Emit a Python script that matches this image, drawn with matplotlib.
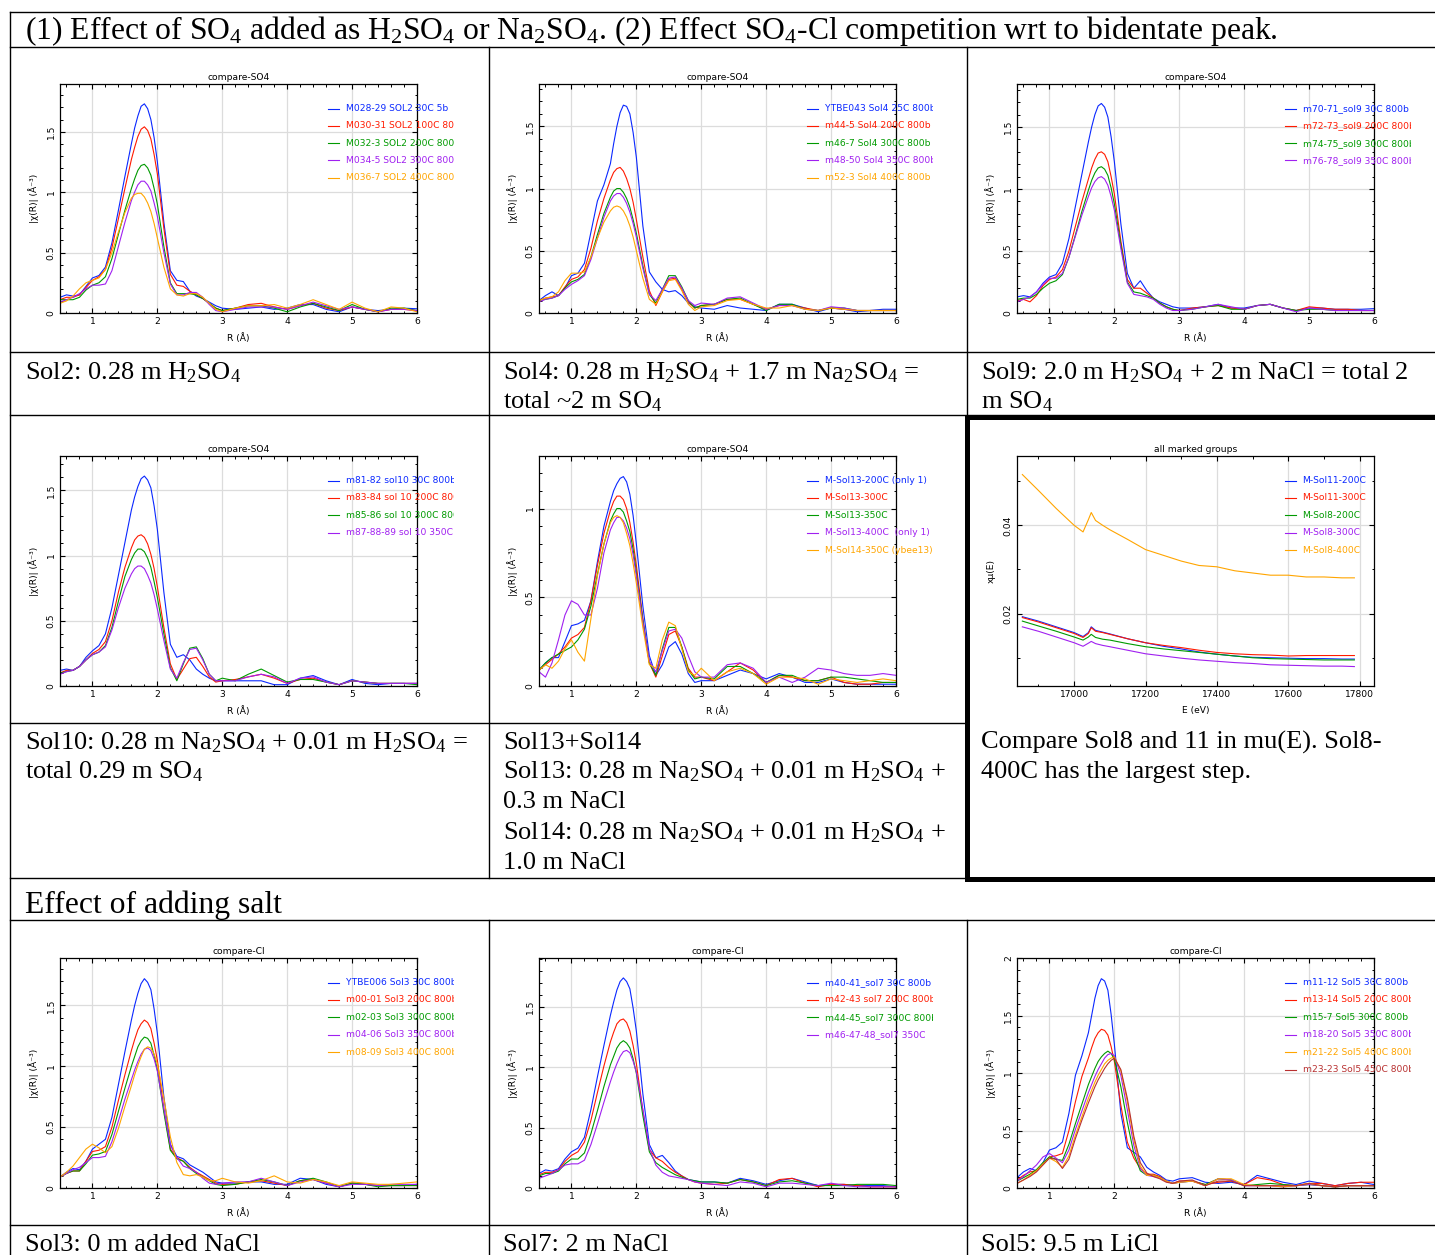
import matplotlib
matplotlib.use("Agg")
import matplotlib.pyplot as plt
from matplotlib.ticker import MultipleLocator, FuncFormatter
from matplotlib.transforms import Bbox, TransformedBbox

plt.rcParams["font.family"] = "DejaVu Sans"
plt.rcParams["mathtext.fontset"] = "custom"
plt.rcParams["mathtext.rm"] = "Liberation Serif"
plt.rcParams["mathtext.it"] = "Liberation Serif:italic"
plt.rcParams["mathtext.bf"] = "Liberation Serif:bold"

# ---- data ----
R = [0.5, 0.6, 0.7, 0.8, 0.9, 1.0, 1.1, 1.2, 1.3, 1.4, 1.5, 1.6,
     1.65, 1.7, 1.75, 1.8, 1.85, 1.9, 1.95,
     2.0, 2.1, 2.2, 2.3, 2.4, 2.5, 2.6, 2.7, 2.8, 2.9, 3.0,
     3.2, 3.4, 3.6, 3.8, 4.0, 4.2, 4.4, 4.6, 4.8, 5.0, 5.2, 5.4, 5.6, 5.8, 6.0]

COLORS = ["#0a28ff", "#ff1a00", "#009a00", "#a020f0", "#ffa500", "#b83030"]

SOL2_LABELS = ["M028-29 SOL2 30C 5b", "M030-31 SOL2 100C 800b", "M032-3 SOL2 200C 800b",
               "M034-5 SOL2 300C 800b", "M036-7 SOL2 400C 800b"]
SOL2_CURVES = [
    [0.13, 0.15, 0.14, 0.15, 0.22, 0.29, 0.31, 0.38, 0.58, 0.85, 1.13, 1.40,
     1.53, 1.63, 1.71, 1.73, 1.69, 1.60, 1.45,
     1.25, 0.75, 0.35, 0.27, 0.26, 0.18, 0.14, 0.12, 0.09, 0.06, 0.04,
     0.03, 0.04, 0.05, 0.03, 0.04, 0.07, 0.07, 0.03, 0.01, 0.05, 0.03, 0.02, 0.03, 0.04, 0.035],
    [0.11, 0.13, 0.13, 0.15, 0.21, 0.27, 0.30, 0.36, 0.54, 0.78, 1.03, 1.27,
     1.37, 1.46, 1.52, 1.54, 1.51, 1.44, 1.31,
     1.15, 0.70, 0.32, 0.23, 0.22, 0.18, 0.15, 0.12, 0.08, 0.04, 0.02,
     0.04, 0.07, 0.08, 0.05, 0.03, 0.06, 0.08, 0.04, 0.02, 0.05, 0.03, 0.01, 0.03, 0.03, 0.02],
    [0.11, 0.11, 0.11, 0.13, 0.19, 0.23, 0.25, 0.30, 0.45, 0.65, 0.85, 1.03,
     1.11, 1.18, 1.22, 1.23, 1.20, 1.14, 1.03,
     0.90, 0.55, 0.25, 0.16, 0.16, 0.16, 0.15, 0.12, 0.08, 0.04, 0.02,
     0.04, 0.06, 0.06, 0.04, 0.01, 0.05, 0.08, 0.05, 0.02, 0.07, 0.03, 0.01, 0.04, 0.04, 0.02],
    [0.09, 0.11, 0.13, 0.16, 0.20, 0.23, 0.23, 0.24, 0.35, 0.55, 0.75, 0.93,
     1.00, 1.06, 1.09, 1.09, 1.06, 1.01, 0.91,
     0.80, 0.50, 0.24, 0.15, 0.15, 0.17, 0.17, 0.13, 0.07, 0.02, 0.01,
     0.03, 0.05, 0.05, 0.05, 0.03, 0.06, 0.09, 0.06, 0.03, 0.05, 0.03, 0.01, 0.03, 0.03, 0.02],
    [0.08, 0.10, 0.14, 0.20, 0.25, 0.27, 0.29, 0.36, 0.50, 0.67, 0.83, 0.95,
     0.98, 0.99, 0.99, 0.96, 0.91, 0.84, 0.74,
     0.62, 0.38, 0.20, 0.15, 0.14, 0.16, 0.16, 0.13, 0.08, 0.03, 0.01,
     0.04, 0.06, 0.06, 0.07, 0.04, 0.07, 0.11, 0.07, 0.03, 0.09, 0.04, 0.01, 0.05, 0.04, 0.01],
]

SOL4_LABELS = ["YTBE043 Sol4 25C 800b", "m44-5 Sol4 200C 800b", "m46-7 Sol4 300C 800b",
               "m48-50 Sol4 350C 800b", "m52-3 Sol4 400C 800b"]
SOL4_CURVES = [
    [0.10, 0.14, 0.17, 0.14, 0.20, 0.30, 0.32, 0.40, 0.65, 0.90, 1.03, 1.20,
     1.36, 1.50, 1.61, 1.67, 1.66, 1.60, 1.45,
     1.25, 0.70, 0.33, 0.25, 0.19, 0.17, 0.18, 0.14, 0.08, 0.05, 0.04,
     0.03, 0.06, 0.04, 0.03, 0.02, 0.07, 0.07, 0.04, 0.01, 0.04, 0.03, 0.01, 0.02, 0.03, 0.03],
    [0.10, 0.12, 0.13, 0.14, 0.21, 0.27, 0.29, 0.35, 0.52, 0.74, 0.92, 1.07,
     1.13, 1.16, 1.17, 1.14, 1.08, 1.00, 0.89,
     0.75, 0.45, 0.18, 0.06, 0.17, 0.27, 0.28, 0.19, 0.09, 0.04, 0.06,
     0.07, 0.11, 0.11, 0.07, 0.03, 0.06, 0.06, 0.04, 0.02, 0.04, 0.03, 0.02, 0.02, 0.02, 0.02],
    [0.10, 0.11, 0.12, 0.14, 0.20, 0.25, 0.27, 0.31, 0.45, 0.63, 0.80, 0.93,
     0.98, 1.00, 1.00, 0.97, 0.92, 0.85, 0.75,
     0.64, 0.38, 0.15, 0.08, 0.19, 0.30, 0.30, 0.21, 0.10, 0.04, 0.06,
     0.07, 0.11, 0.12, 0.07, 0.02, 0.07, 0.07, 0.03, 0.02, 0.04, 0.04, 0.02, 0.02, 0.02, 0.02],
    [0.09, 0.11, 0.12, 0.14, 0.19, 0.23, 0.26, 0.30, 0.43, 0.60, 0.77, 0.90,
     0.94, 0.96, 0.96, 0.93, 0.88, 0.81, 0.72,
     0.61, 0.36, 0.15, 0.10, 0.19, 0.28, 0.29, 0.20, 0.10, 0.06, 0.08,
     0.07, 0.12, 0.13, 0.08, 0.03, 0.06, 0.06, 0.03, 0.02, 0.05, 0.04, 0.02, 0.02, 0.02, 0.02],
    [0.10, 0.12, 0.13, 0.17, 0.26, 0.32, 0.32, 0.33, 0.45, 0.60, 0.73, 0.82,
     0.85, 0.86, 0.85, 0.82, 0.77, 0.70, 0.61,
     0.50, 0.28, 0.11, 0.07, 0.17, 0.26, 0.27, 0.18, 0.07, 0.02, 0.05,
     0.06, 0.10, 0.11, 0.07, 0.04, 0.04, 0.06, 0.03, 0.02, 0.04, 0.03, 0.02, 0.02, 0.02, 0.02],
]

SOL9_LABELS = ["m70-71_sol9 30C 800b", "m72-73_sol9 200C 800b", "m74-75_sol9 300C 800b",
               "m76-78_sol9 350C 800b"]
SOL9_CURVES = [
    [0.13, 0.14, 0.13, 0.17, 0.24, 0.29, 0.31, 0.40, 0.60, 0.86, 1.12, 1.38,
     1.50, 1.60, 1.67, 1.69, 1.66, 1.58, 1.42,
     1.22, 0.72, 0.32, 0.20, 0.26, 0.18, 0.12, 0.09, 0.07, 0.05, 0.04,
     0.04, 0.05, 0.07, 0.04, 0.04, 0.06, 0.07, 0.04, 0.02, 0.04, 0.04, 0.03, 0.03, 0.03, 0.035],
    [0.10, 0.11, 0.09, 0.14, 0.22, 0.27, 0.29, 0.35, 0.50, 0.70, 0.90, 1.08,
     1.17, 1.24, 1.29, 1.30, 1.28, 1.22, 1.10,
     0.96, 0.58, 0.27, 0.20, 0.20, 0.16, 0.12, 0.08, 0.05, 0.03, 0.02,
     0.04, 0.05, 0.06, 0.04, 0.03, 0.06, 0.07, 0.04, 0.02, 0.05, 0.04, 0.03, 0.03, 0.02, 0.02],
    [0.11, 0.12, 0.12, 0.15, 0.20, 0.24, 0.26, 0.31, 0.45, 0.63, 0.82, 0.99,
     1.07, 1.13, 1.17, 1.18, 1.16, 1.11, 1.01,
     0.88, 0.55, 0.25, 0.17, 0.16, 0.14, 0.12, 0.08, 0.05, 0.03, 0.02,
     0.03, 0.05, 0.06, 0.03, 0.03, 0.06, 0.07, 0.04, 0.02, 0.03, 0.03, 0.02, 0.02, 0.02, 0.02],
    [0.09, 0.11, 0.13, 0.17, 0.23, 0.28, 0.28, 0.32, 0.45, 0.62, 0.79, 0.94,
     1.01, 1.06, 1.09, 1.10, 1.08, 1.03, 0.94,
     0.83, 0.52, 0.24, 0.15, 0.14, 0.13, 0.11, 0.07, 0.04, 0.02, 0.02,
     0.03, 0.05, 0.07, 0.05, 0.03, 0.06, 0.07, 0.04, 0.01, 0.04, 0.03, 0.02, 0.02, 0.02, 0.02],
]

SOL10_LABELS = ["m81-82 sol10 30C 800b", "m83-84 sol 10 200C 800b", "m85-86 sol 10 300C 800b",
                "m87-88-89 sol 10 350C 800b"]
SOL10_CURVES = [
    [0.12, 0.13, 0.12, 0.15, 0.22, 0.27, 0.31, 0.40, 0.60, 0.85, 1.10, 1.35,
     1.45, 1.53, 1.59, 1.61, 1.58, 1.52, 1.38,
     1.20, 0.72, 0.32, 0.22, 0.24, 0.20, 0.13, 0.09, 0.06, 0.04, 0.04,
     0.04, 0.04, 0.04, 0.01, 0.01, 0.06, 0.08, 0.04, 0.01, 0.05, 0.02, 0.01, 0.02, 0.02, 0.02],
    [0.10, 0.12, 0.12, 0.15, 0.20, 0.25, 0.28, 0.34, 0.50, 0.72, 0.91, 1.06,
     1.12, 1.15, 1.16, 1.14, 1.09, 1.01, 0.90,
     0.76, 0.45, 0.17, 0.05, 0.13, 0.21, 0.22, 0.15, 0.07, 0.03, 0.04,
     0.05, 0.07, 0.09, 0.06, 0.02, 0.05, 0.06, 0.03, 0.01, 0.04, 0.03, 0.02, 0.02, 0.02, 0.02],
    [0.10, 0.11, 0.12, 0.15, 0.20, 0.24, 0.26, 0.31, 0.45, 0.65, 0.84, 0.97,
     1.02, 1.05, 1.05, 1.03, 0.98, 0.91, 0.80,
     0.68, 0.40, 0.14, 0.04, 0.17, 0.29, 0.30, 0.21, 0.09, 0.04, 0.06,
     0.04, 0.09, 0.13, 0.08, 0.03, 0.05, 0.05, 0.03, 0.01, 0.04, 0.03, 0.02, 0.02, 0.02, 0.01],
    [0.09, 0.11, 0.12, 0.15, 0.20, 0.24, 0.26, 0.30, 0.43, 0.60, 0.75, 0.86,
     0.90, 0.92, 0.92, 0.90, 0.85, 0.79, 0.70,
     0.59, 0.35, 0.13, 0.06, 0.18, 0.28, 0.29, 0.20, 0.09, 0.04, 0.04,
     0.04, 0.07, 0.09, 0.07, 0.02, 0.06, 0.07, 0.03, 0.01, 0.04, 0.03, 0.02, 0.02, 0.02, 0.02],
]

SOL13_LABELS = ["M-Sol13-200C (only 1)", "M-Sol13-300C", "M-Sol13-350C",
                "M-Sol13-400C  (only 1)", "M-Sol14-350C (ybee13)"]
SOL13_CURVES = [
    [0.09, 0.13, 0.16, 0.16, 0.25, 0.34, 0.35, 0.37, 0.48, 0.70, 0.90, 1.04,
     1.10, 1.14, 1.17, 1.18, 1.15, 1.08, 0.96,
     0.80, 0.45, 0.17, 0.06, 0.12, 0.22, 0.25, 0.18, 0.07, 0.02, 0.03,
     0.03, 0.06, 0.09, 0.07, 0.04, 0.07, 0.05, 0.02, 0.02, 0.04, 0.02, 0.01, 0.01, 0.01, 0.01],
    [0.09, 0.12, 0.15, 0.18, 0.22, 0.27, 0.29, 0.33, 0.48, 0.68, 0.86, 0.99,
     1.04, 1.07, 1.07, 1.05, 1.00, 0.92, 0.81,
     0.68, 0.38, 0.13, 0.05, 0.17, 0.29, 0.31, 0.22, 0.10, 0.05, 0.05,
     0.03, 0.08, 0.13, 0.09, 0.02, 0.06, 0.05, 0.03, 0.03, 0.05, 0.02, 0.01, 0.01, 0.02, 0.02],
    [0.09, 0.13, 0.16, 0.18, 0.20, 0.22, 0.26, 0.32, 0.45, 0.63, 0.80, 0.93,
     0.97, 1.00, 1.00, 0.98, 0.93, 0.87, 0.77,
     0.64, 0.37, 0.13, 0.06, 0.21, 0.33, 0.33, 0.22, 0.09, 0.04, 0.05,
     0.04, 0.11, 0.11, 0.07, 0.02, 0.06, 0.06, 0.03, 0.03, 0.05, 0.05, 0.04, 0.03, 0.02, 0.02],
    [0.08, 0.05, 0.13, 0.26, 0.40, 0.48, 0.46, 0.40, 0.40, 0.55, 0.75, 0.88,
     0.92, 0.95, 0.95, 0.93, 0.89, 0.83, 0.74,
     0.62, 0.36, 0.14, 0.08, 0.20, 0.31, 0.32, 0.27, 0.17, 0.08, 0.05,
     0.05, 0.12, 0.13, 0.10, 0.02, 0.05, 0.02, 0.05, 0.10, 0.09, 0.07, 0.06, 0.06, 0.07, 0.06],
    [0.09, 0.12, 0.10, 0.14, 0.21, 0.26, 0.19, 0.14, 0.38, 0.62, 0.80, 0.92,
     0.95, 0.96, 0.95, 0.92, 0.86, 0.79, 0.69,
     0.58, 0.33, 0.12, 0.10, 0.26, 0.36, 0.34, 0.21, 0.08, 0.06, 0.10,
     0.03, 0.08, 0.10, 0.07, 0.01, 0.05, 0.05, 0.04, 0.01, 0.04, 0.03, 0.02, 0.03, 0.04, 0.03],
]

E_EV = [16855, 16900, 16950, 17000, 17025, 17040, 17048, 17060, 17080, 17100, 17150, 17200,
        17250, 17300, 17350, 17400, 17450, 17500, 17550, 17600, 17650, 17700, 17750, 17785]
MU_LABELS = ["M-Sol11-200C", "M-Sol11-300C", "M-Sol8-200C", "M-Sol8-300C", "M-Sol8-400C"]
MU_CURVES = [
    [0.0193, 0.0183, 0.0170, 0.0157, 0.0148, 0.0157, 0.0170, 0.0162, 0.0158, 0.0154, 0.0143, 0.0134,
     0.0126, 0.0120, 0.0113, 0.0108, 0.0104, 0.0101, 0.0100, 0.0099, 0.0098, 0.0098, 0.0097, 0.0097],
    [0.0191, 0.0181, 0.0168, 0.0155, 0.0146, 0.0155, 0.0168, 0.0160, 0.0157, 0.0153, 0.0143, 0.0134,
     0.0128, 0.0123, 0.0117, 0.0112, 0.0109, 0.0107, 0.0106, 0.0104, 0.0105, 0.0105, 0.0105, 0.0105],
    [0.0183, 0.0172, 0.0160, 0.0147, 0.0140, 0.0147, 0.0153, 0.0146, 0.0142, 0.0140, 0.0132, 0.0125,
     0.0120, 0.0116, 0.0112, 0.0108, 0.0104, 0.0100, 0.0098, 0.0097, 0.0096, 0.0095, 0.0095, 0.0095],
    [0.0170, 0.0160, 0.0147, 0.0134, 0.0126, 0.0133, 0.0137, 0.0132, 0.0128, 0.0125, 0.0117, 0.0109,
     0.0104, 0.0099, 0.0095, 0.0092, 0.0089, 0.0087, 0.0084, 0.0083, 0.0082, 0.0081, 0.0081, 0.0080],
    [0.0515, 0.0479, 0.0438, 0.0400, 0.0385, 0.0413, 0.0429, 0.0411, 0.0400, 0.0390, 0.0368, 0.0345,
     0.0332, 0.0319, 0.0309, 0.0306, 0.0297, 0.0292, 0.0287, 0.0287, 0.0283, 0.0283, 0.0281, 0.0281],
]

SOL3_LABELS = ["YTBE006 Sol3 30C 800b", "m00-01 Sol3 200C 800b", "m02-03 Sol3 300C 800b",
               "m04-06 Sol3 350C 800b", "m08-09 Sol3 400C 800b"]
SOL3_CURVES = [
    [0.09, 0.13, 0.16, 0.15, 0.22, 0.32, 0.36, 0.40, 0.58, 0.85, 1.12, 1.38,
     1.50, 1.60, 1.68, 1.72, 1.69, 1.63, 1.47,
     1.27, 0.75, 0.36, 0.26, 0.24, 0.19, 0.16, 0.13, 0.09, 0.05, 0.04,
     0.04, 0.05, 0.05, 0.03, 0.03, 0.08, 0.07, 0.03, 0.01, 0.04, 0.03, 0.02, 0.02, 0.02, 0.03],
    [0.09, 0.12, 0.14, 0.14, 0.22, 0.30, 0.31, 0.34, 0.50, 0.72, 0.93, 1.13,
     1.22, 1.30, 1.35, 1.38, 1.36, 1.31, 1.19,
     1.05, 0.65, 0.32, 0.25, 0.22, 0.17, 0.13, 0.10, 0.07, 0.04, 0.03,
     0.03, 0.05, 0.06, 0.04, 0.02, 0.06, 0.07, 0.04, 0.01, 0.04, 0.03, 0.02, 0.02, 0.02, 0.02],
    [0.09, 0.12, 0.14, 0.14, 0.20, 0.27, 0.28, 0.30, 0.44, 0.63, 0.82, 1.00,
     1.08, 1.16, 1.21, 1.24, 1.23, 1.19, 1.09,
     0.97, 0.62, 0.31, 0.24, 0.22, 0.16, 0.12, 0.09, 0.06, 0.03, 0.02,
     0.03, 0.05, 0.07, 0.05, 0.02, 0.06, 0.08, 0.05, 0.01, 0.04, 0.03, 0.01, 0.02, 0.02, 0.02],
    [0.09, 0.12, 0.15, 0.17, 0.21, 0.25, 0.25, 0.26, 0.38, 0.55, 0.73, 0.89,
     0.97, 1.04, 1.10, 1.14, 1.15, 1.13, 1.06,
     0.96, 0.65, 0.35, 0.25, 0.18, 0.16, 0.13, 0.08, 0.04, 0.03, 0.04,
     0.05, 0.05, 0.08, 0.05, 0.02, 0.05, 0.07, 0.04, 0.01, 0.03, 0.03, 0.02, 0.03, 0.03, 0.03],
    [0.09, 0.13, 0.18, 0.25, 0.32, 0.36, 0.33, 0.29, 0.34, 0.49, 0.67, 0.84,
     0.93, 1.01, 1.08, 1.14, 1.16, 1.15, 1.10,
     1.02, 0.74, 0.42, 0.21, 0.11, 0.10, 0.11, 0.09, 0.06, 0.06, 0.08,
     0.05, 0.04, 0.06, 0.10, 0.05, 0.04, 0.07, 0.05, 0.02, 0.05, 0.04, 0.03, 0.03, 0.04, 0.05],
]

SOL7_LABELS = ["m40-41_sol7 30C 800b", "m42-43 sol7 200C 800b", "m44-45_sol7 300C 800b",
               "m46-47-48_sol7 350C"]
SOL7_CURVES = [
    [0.12, 0.15, 0.14, 0.16, 0.24, 0.30, 0.33, 0.42, 0.65, 0.92, 1.18, 1.43,
     1.54, 1.64, 1.71, 1.74, 1.71, 1.65, 1.49,
     1.30, 0.78, 0.36, 0.25, 0.27, 0.21, 0.14, 0.10, 0.07, 0.06, 0.05,
     0.05, 0.04, 0.08, 0.06, 0.03, 0.06, 0.08, 0.05, 0.02, 0.03, 0.03, 0.02, 0.02, 0.02, 0.01],
    [0.11, 0.13, 0.13, 0.15, 0.22, 0.27, 0.30, 0.38, 0.56, 0.79, 1.01, 1.21,
     1.29, 1.36, 1.39, 1.40, 1.37, 1.30, 1.18,
     1.03, 0.64, 0.32, 0.25, 0.22, 0.17, 0.13, 0.10, 0.07, 0.05, 0.04,
     0.03, 0.04, 0.07, 0.05, 0.02, 0.07, 0.08, 0.04, 0.01, 0.03, 0.03, 0.02, 0.01, 0.01, 0.01],
    [0.10, 0.12, 0.12, 0.14, 0.20, 0.24, 0.24, 0.29, 0.45, 0.64, 0.84, 1.02,
     1.09, 1.16, 1.20, 1.22, 1.20, 1.16, 1.07,
     0.95, 0.60, 0.30, 0.21, 0.17, 0.14, 0.11, 0.09, 0.07, 0.06, 0.05,
     0.05, 0.04, 0.07, 0.05, 0.02, 0.05, 0.06, 0.04, 0.02, 0.02, 0.02, 0.03, 0.03, 0.03, 0.02],
    [0.08, 0.10, 0.12, 0.15, 0.19, 0.20, 0.20, 0.23, 0.36, 0.53, 0.71, 0.88,
     0.96, 1.03, 1.09, 1.13, 1.14, 1.12, 1.05,
     0.96, 0.65, 0.33, 0.19, 0.13, 0.10, 0.09, 0.08, 0.07, 0.05, 0.04,
     0.03, 0.02, 0.05, 0.04, 0.01, 0.04, 0.04, 0.03, 0.02, 0.04, 0.02, 0.01, 0.01, 0.01, 0.01],
]

SOL5_LABELS = ["m11-12 Sol5 30C 800b", "m13-14 Sol5 200C 800b", "m15-7 Sol5 300C 800b",
               "m18-20 Sol5 350C 800b", "m21-22 Sol5 400C 800b", "m23-23 Sol5 450C 800b"]
SOL5_CURVES = [
    [0.09, 0.14, 0.17, 0.15, 0.22, 0.33, 0.35, 0.40, 0.65, 0.98, 1.15, 1.35,
     1.50, 1.65, 1.76, 1.82, 1.80, 1.72, 1.51,
     1.25, 0.65, 0.35, 0.31, 0.27, 0.18, 0.14, 0.11, 0.07, 0.06, 0.08,
     0.09, 0.05, 0.04, 0.05, 0.03, 0.11, 0.08, 0.05, 0.03, 0.06, 0.04, 0.02, 0.04, 0.05, 0.03],
    [0.07, 0.11, 0.14, 0.15, 0.21, 0.27, 0.28, 0.30, 0.50, 0.75, 0.97, 1.13,
     1.22, 1.30, 1.35, 1.38, 1.37, 1.33, 1.23,
     1.10, 0.72, 0.40, 0.26, 0.17, 0.12, 0.12, 0.10, 0.06, 0.04, 0.06,
     0.06, 0.03, 0.05, 0.06, 0.03, 0.09, 0.07, 0.03, 0.02, 0.04, 0.04, 0.02, 0.04, 0.05, 0.05],
    [0.06, 0.09, 0.12, 0.16, 0.22, 0.27, 0.25, 0.24, 0.38, 0.56, 0.73, 0.90,
     0.97, 1.04, 1.10, 1.14, 1.17, 1.19, 1.17,
     1.12, 0.88, 0.57, 0.30, 0.15, 0.11, 0.11, 0.09, 0.06, 0.04, 0.05,
     0.06, 0.03, 0.08, 0.07, 0.02, 0.03, 0.04, 0.03, 0.02, 0.03, 0.02, 0.01, 0.02, 0.02, 0.02],
    [0.06, 0.10, 0.15, 0.20, 0.27, 0.30, 0.26, 0.22, 0.33, 0.51, 0.67, 0.83,
     0.90, 0.97, 1.03, 1.08, 1.13, 1.16, 1.17,
     1.15, 0.98, 0.68, 0.37, 0.17, 0.11, 0.10, 0.09, 0.06, 0.04, 0.05,
     0.06, 0.02, 0.08, 0.07, 0.02, 0.02, 0.02, 0.01, 0.02, 0.03, 0.02, 0.01, 0.02, 0.02, 0.02],
    [0.04, 0.07, 0.11, 0.15, 0.21, 0.26, 0.23, 0.18, 0.28, 0.46, 0.62, 0.78,
     0.85, 0.92, 0.98, 1.03, 1.08, 1.11, 1.13,
     1.14, 1.02, 0.75, 0.42, 0.19, 0.11, 0.11, 0.09, 0.06, 0.04, 0.05,
     0.06, 0.02, 0.08, 0.08, 0.03, 0.02, 0.02, 0.01, 0.02, 0.04, 0.02, 0.01, 0.02, 0.02, 0.02],
    [0.04, 0.07, 0.10, 0.14, 0.20, 0.26, 0.25, 0.17, 0.25, 0.43, 0.59, 0.74,
     0.81, 0.88, 0.94, 0.99, 1.04, 1.08, 1.11,
     1.13, 1.03, 0.78, 0.45, 0.22, 0.13, 0.10, 0.08, 0.05, 0.04, 0.06,
     0.07, 0.02, 0.06, 0.06, 0.02, 0.02, 0.02, 0.02, 0.02, 0.04, 0.02, 0.01, 0.02, 0.02, 0.02],
]

W, H = 1435, 1255
SERIF = "Liberation Serif"
HEAD_SIZE = 22.8
CAP_SIZE = 19
PLOT_FS = 6.6


def px_axes(fig, left, top, right, bottom):
    return fig.add_axes([left / W, 1 - bottom / H, (right - left) / W, (bottom - top) / H])


def draw_panel(ax, xs, curves, labels, title, xlim, ylim, xmaj, xmin, ymaj, ymin, xlabel, ylabel):
    for curve, color in zip(curves, COLORS):
        ax.plot(xs, curve, color=color, lw=0.8)
    ax.set_xlim(*xlim)
    ax.set_ylim(*ylim)
    ax.xaxis.set_major_locator(MultipleLocator(xmaj))
    ax.xaxis.set_minor_locator(MultipleLocator(xmin))
    ax.yaxis.set_major_locator(MultipleLocator(ymaj))
    ax.yaxis.set_minor_locator(MultipleLocator(ymin))
    ax.yaxis.set_major_formatter(FuncFormatter(lambda v, p: f"{v:g}"))
    ax.grid(True, which="major", color="#dcdcdc", lw=0.9)
    ax.set_axisbelow(True)
    ax.tick_params(which="both", direction="in", top=True, right=True, labelsize=PLOT_FS, pad=3)
    ax.tick_params(which="major", length=3.5, width=0.8)
    ax.tick_params(which="minor", length=1.8, width=0.7)
    for lab in ax.get_yticklabels():
        lab.set_rotation(90)
        lab.set_va("center")
    for s in ax.spines.values():
        s.set_linewidth(0.9)
    ax.set_title(title, fontsize=PLOT_FS, pad=3)
    ax.set_xlabel(xlabel, fontsize=PLOT_FS, labelpad=5)
    ax.set_ylabel(ylabel, fontsize=PLOT_FS, labelpad=6)
    clip = TransformedBbox(Bbox([[0.5, 0.0], [1.103, 1.0]]), ax.transAxes)
    for i, (lab, color) in enumerate(zip(labels, COLORS)):
        y = 0.893 - i * 0.0756
        ax.plot([0.751, 0.781], [y, y], color=color, lw=0.8, transform=ax.transAxes, clip_on=False)
        t = ax.text(0.800, y, lab, color=color, fontsize=PLOT_FS, va="center", ha="left",
                    transform=ax.transAxes)
        t.set_clip_box(clip)
        t.set_clip_on(True)


fig = plt.figure(figsize=(W / 100, H / 100), dpi=100)
bg = fig.add_axes([0, 0, 1, 1])
bg.set_xlim(0, W)
bg.set_ylim(H, 0)
bg.axis("off")

# table rules
LW = 1.0
for y in (12, 47, 352, 415, 878, 920, 1225):
    bg.plot([10, W], [y, y], color="black", lw=LW)
bg.plot([10, 967], [723, 723], color="black", lw=LW)
bg.plot([10, 10], [12, H], color="black", lw=LW)
for x in (489, 967):
    bg.plot([x, x], [47, 878], color="black", lw=LW)
    bg.plot([x, x], [920, H], color="black", lw=LW)
# thick frame around the mu(E) cell
bg.plot([W + 5, 967, 967, W + 5], [417, 417, 879, 879], color="black", lw=3.6,
        solid_joinstyle="miter")

hkw = dict(fontfamily=SERIF, fontsize=HEAD_SIZE, va="baseline", ha="left")
ckw = dict(fontfamily=SERIF, fontsize=CAP_SIZE, va="baseline", ha="left")
bg.text(25, 39, "(1) Effect of SO$_4$ added as H$_2$SO$_4$ or Na$_2$SO$_4$. (2) Effect "
        "SO$_4$-Cl competition wrt to bidentate peak.", **hkw)
bg.text(25, 379, "Sol2: 0.28 m H$_2$SO$_4$", **ckw)
bg.text(503, 379, "Sol4: 0.28 m H$_2$SO$_4$ + 1.7 m Na$_2$SO$_4$ =", **ckw)
bg.text(503, 408, "total ~2 m SO$_4$", **ckw)
bg.text(981, 379, "Sol9: 2.0 m H$_2$SO$_4$ + 2 m NaCl = total 2", **ckw)
bg.text(981, 408, "m SO$_4$", **ckw)
bg.text(25, 749, "Sol10: 0.28 m Na$_2$SO$_4$ + 0.01 m H$_2$SO$_4$ =", **ckw)
bg.text(25, 778, "total 0.29 m SO$_4$", **ckw)
bg.text(503, 749, "Sol13+Sol14", **ckw)
bg.text(503, 778, "Sol13: 0.28 m Na$_2$SO$_4$ + 0.01 m H$_2$SO$_4$ +", **ckw)
bg.text(503, 808, "0.3 m NaCl", **ckw)
bg.text(503, 839, "Sol14: 0.28 m Na$_2$SO$_4$ + 0.01 m H$_2$SO$_4$ +", **ckw)
bg.text(503, 869, "1.0 m NaCl", **ckw)
bg.text(981, 749, "Compare Sol8 and 11 in mu(E). Sol8-", **ckw)
bg.text(981, 778, "400C has the largest step.", **ckw)
bg.text(25, 913, "Effect of adding salt", **hkw)
bg.text(25, 1251, "Sol3: 0 m added NaCl", **ckw)
bg.text(503, 1251, "Sol7: 2 m NaCl", **ckw)
bg.text(981, 1251, "Sol5: 9.5 m LiCl", **ckw)

COL_L = [60, 539, 1017]
YCHI = "|χ(R)| (Å⁻³)"
XR = "R (Å)"

panels = [
    (COL_L[0], 84, 313, SOL2_CURVES, SOL2_LABELS, "compare-SO4", (0, 1.894)),
    (COL_L[1], 84, 313, SOL4_CURVES, SOL4_LABELS, "compare-SO4", (0, 1.84)),
    (COL_L[2], 84, 313, SOL9_CURVES, SOL9_LABELS, "compare-SO4", (0, 1.847)),
    (COL_L[0], 456, 686, SOL10_CURVES, SOL10_LABELS, "compare-SO4", (0, 1.764)),
    (COL_L[1], 456, 686, SOL13_CURVES, SOL13_LABELS, "compare-SO4", (0, 1.296)),
    (COL_L[0], 958, 1188, SOL3_CURVES, SOL3_LABELS, "compare-Cl", (0, 1.89)),
    (COL_L[1], 958, 1188, SOL7_CURVES, SOL7_LABELS, "compare-Cl", (0, 1.905)),
    (COL_L[2], 958, 1188, SOL5_CURVES, SOL5_LABELS, "compare-Cl", (0, 2.0)),
]
for left, top, bottom, curves, labels, title, ylim in panels:
    ax = px_axes(fig, left, top, left + 357, bottom)
    draw_panel(ax, R, curves, labels, title, (0.5, 6.0), ylim, 1, 0.2, 0.5, 0.1, XR, YCHI)

ax = px_axes(fig, COL_L[2], 456, COL_L[2] + 357, 686)
draw_panel(ax, E_EV, MU_CURVES, MU_LABELS, "all marked groups", (16840, 17840), (0.0036, 0.0557),
           200, 100, 0.02, 0.01, "E (eV)", "xμ(E)")

fig.savefig("out.png", dpi=100)
